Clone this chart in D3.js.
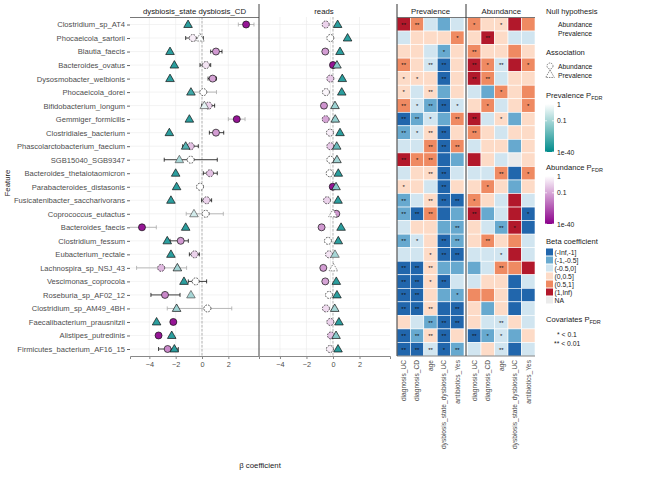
<!DOCTYPE html>
<html>
<head>
<meta charset="UTF-8"/>
<script src="https://d3js.org/d3.v7.min.js"></script>
<style>
body{margin:0;background:#fff;}
svg{font-family:"Liberation Sans",Arial,sans-serif;}
</style>
</head>
<body>
<svg id="chart" width="654" height="485"></svg>
<script>
'use strict';
// ---- data ----
var features = ['Clostridium_sp_AT4','Phocaeicola_sartorii','Blautia_faecis','Bacteroides_ovatus',
  'Dysosmobacter_welbionis','Phocaeicola_dorei','Bifidobacterium_longum','Gemmiger_formicilis',
  'Clostridiales_bacterium','Phascolarctobacterium_faecium','SGB15040_SGB9347','Bacteroides_thetaiotaomicron',
  'Parabacteroides_distasonis','Fusicatenibacter_saccharivorans','Coprococcus_eutactus','Bacteroides_faecis',
  'Clostridium_fessum','Eubacterium_rectale','Lachnospira_sp_NSJ_43','Vescimonas_coprocola',
  'Roseburia_sp_AF02_12','Clostridium_sp_AM49_4BH','Faecalibacterium_prausnitzii','Alistipes_putredinis',
  'Firmicutes_bacterium_AF16_15'];
var panels = ['dysbiosis_state dysbiosis_CD','reads'];
var covariates = ['diagnosis_UC','diagnosis_CD','age','dysbiosis_state_dysbiosis_UC','antibiotics_Yes'];
var xTicks = [-4,-2,0,2];

// forest: dysbiosis panel
var dysTri  = [-1.06,-0.15,-2.43,-2.1,-2.43,-0.84,0.18,-0.96,-2.48,-1.24,-1.72,-2.0,-1.93,-2.36,-0.61,-1.24,-2.64,-2.36,-1.87,-1.37,-0.84,-1.93,-3.45,-2.3,-2.1];
var dysCirc = [3.35,-0.7,1.06,0.3,0.81,0.1,0.5,2.64,1.06,-0.86,-0.86,0.61,-0.15,0.35,0.28,-4.56,-1.62,-0.56,-3.1,-0.48,-2.81,0.41,-2.18,-3.3,-2.61];
var dysCircLo = [2.76,-1.24,0.66,-0.15,0.46,-0.9,-0.03,2.0,0.56,-1.47,-2.87,0.1,-0.35,-0.03,-1.2,-5.65,-2.43,-0.96,-4.97,-1.04,-3.88,-2.64,-2.35,-3.45,-3.3];
var dysCircHi = [3.95,0.1,1.52,0.66,1.1,1.1,0.96,3.27,1.65,-0.28,1.16,1.16,0.05,0.73,1.62,-3.47,-1.04,-0.2,-1.17,0.35,-1.67,2.26,-2.0,-3.15,-1.8];
var dysCiFaint = [1,0,0,0,0,1,0,1,0,0,0,0,0,0,1,1,0,0,1,0,0,1,0,0,0];
var dysTriLogP  = [-30,-0.05,-30,-30,-30,-25,-0.3,-30,-30,-20,-1,-30,-30,-30,-0.5,-30,-30,-30,-2,-30,-1,-3,-30,-30,-30];
var dysCircLogP = [-35,-0.2,-4,-0.3,-2,0,-0.5,-35,-3,-0.7,0,-0.7,0,-0.5,0,-35,-4,-0.5,-0.8,0,-8,0,-35,-35,-8];
// forest: reads panel
var readsTri  = [0.35,1.1,0.53,0.3,0.7,0.66,0.15,0.17,0.53,0.28,0.3,0.4,0.23,0.38,0.0,0.61,0.4,0.15,0.03,0.25,0.3,0.13,0.45,0.23,0.38];
var readsCirc = [-0.55,-0.2,-0.58,0.0,-0.2,-0.53,-0.68,-0.55,-0.23,-0.2,-0.2,-0.25,-0.02,-0.45,0.25,-0.86,-0.38,-0.3,-0.73,-0.58,-0.3,-0.53,-0.2,-0.15,-0.23];
var readsTriLogP  = [-30,-30,-30,-8,-30,-30,-3,-5,-30,-15,-2,-30,-8,-30,0,-30,-30,-1,0,-30,-30,-1.5,-30,-8,-30];
var readsCircLogP = [-0.5,0,-3,-35,-0.6,-0.1,-5,-1,-0.2,-0.6,0,0,-35,-0.5,-4,-4,0,-0.3,-3,-1.5,0,-0.4,-0.5,-0.7,-0.2];

// heatmap: beta coefficients (rows = features, cols = covariates)
var prevBeta = [
 [1.5,0.75,-0.25,-0.75,-0.25],[-0.25,0.25,0.25,0.25,0.75],[0.25,0.25,-0.25,-0.75,0.25],[0.75,0.25,-0.25,-1.5,0.25],
 [0.25,0.25,0.25,-1.5,0.25],[0.25,-0.25,0.25,-0.75,0.25],[0.75,-0.25,-0.75,-1.5,-0.25],[-1.5,-0.75,-0.25,-0.75,0.75],
 [-0.75,-0.25,0.25,-1.5,0.25],[-0.25,-0.25,0.75,-1.5,0.75],[1.5,0.75,0.75,-1.5,-0.75],[-0.25,0.25,0.25,-1.5,-0.25],
 [0.25,0.25,-0.25,-1.5,0.25],[-0.75,-0.25,0.25,-1.5,-1.5],[-0.75,-1.5,0.75,-1.5,-0.75],[-0.25,0.25,0.25,-0.75,-0.75],
 [-0.75,-0.25,0.25,-1.5,-0.75],[-0.25,-0.25,0.25,-1.5,-1.5],[-1.5,-1.5,0.25,-0.75,-0.75],[-1.5,-1.5,0.25,-1.5,-0.25],
 [-1.5,-1.5,0.25,-0.75,-0.75],[-1.5,-1.5,0.25,-1.5,-1.5],[0.25,-0.25,-0.75,-1.5,-1.5],[-1.5,-0.75,0.25,-1.5,0.25],
 [-1.5,-1.5,-0.25,-1.5,-0.75]];
var prevStars = [
 ['**','**','','',''],['','','','','*'],['','','','*',''],['**','','**','**',''],['*','*','','**',''],
 ['*','','**','',''],['**','*','**','**','*'],['**','**','*','','**'],['**','*','**','**',''],['','','**','**','**'],
 ['**','*','**','',''],['','','**','**',''],['*','','','**',''],['**','','**','**','**'],['**','**','**','',''],
 ['','','','','**'],['**','*','','**','**'],['','','*','**','**'],['**','**','**','',''],['**','**','*','**',''],
 ['**','**','','','*'],['**','**','**','','**'],['','','**','**','**'],['**','**','**','**',''],['**','**','**','*','**']];
var abunBeta = [
 [0.75,0.25,0.25,1.5,0.75],[0.25,1.5,0.25,-0.25,-0.25],[0.75,0.25,0.25,0.75,0.25],[1.5,0.75,-0.25,1.5,0.75],
 [1.5,0.75,-0.25,0.25,0.25],[-0.25,-0.75,0.75,0.25,0.75],[0.25,0.75,-0.25,0.25,0.75],[1.5,-0.25,0.25,-0.75,0.25],
 [0.75,0.25,-0.25,0.25,0.25],[-0.25,0.25,0.25,-0.75,0.25],[1.5,0.25,-0.25,null,0.25],[-0.25,-0.25,0.75,-1.5,0.75],
 [0.25,0.75,0.25,-0.75,0.25],[0.75,0.25,-0.25,1.5,-0.25],[1.5,-0.75,-0.25,1.5,-1.5],[0.25,-0.25,-0.75,1.5,-1.5],
 [0.25,0.75,0.25,0.75,-0.25],[-0.25,-0.25,-0.25,1.5,-0.25],[-0.75,-0.25,0.75,0.75,1.5],[-0.25,0.25,0.25,-1.5,-0.25],
 [0.75,0.75,0.25,-1.5,-1.5],[0.25,-0.75,0.25,-1.5,-0.25],[0.25,-0.25,-0.25,0.25,-0.25],[-1.5,-0.75,-0.25,-0.75,0.25],
 [-0.25,0.25,-0.25,-1.5,-0.25]];
var abunStars = [
 ['*','','*','',''],['','**','','',''],['**','','','',''],['**','*','**','','*'],['**','**','','',''],
 ['','','*','',''],['','*','','','*'],['**','','*','',''],['**','','','',''],['','','','',''],
 ['','','','',''],['','','**','','*'],['','*','','',''],['*','','','',''],['**','','','','*'],
 ['','','**','*',''],['','**','','',''],['','','*','',''],['','','**','',''],['','','','',''],
 ['','','','',''],['','','','',''],['','','**','',''],['**','*','*','',''],['','','**','','']];

var betaLabels = ['(-Inf,-1]','(-1,-0.5]','(-0.5,0]','(0,0.5]','(0.5,1]','(1,Inf)','NA'];
var betaColors = ['#2166AC','#67A9CF','#D1E5F0','#FDDBC7','#EF8A62','#B2182B','#EBEBEB'];
var pBreaks = [0, -1, -40];
var pLabels = ['1','0.1','1e-40'];

// ---- drawing ----
var svg = d3.select('#chart');
var txt = '#4d4d4d';

var y = d3.scalePoint().domain(features).range([24.5, 349]);
var yb = d3.scaleBand().domain(features).range([17.5, 356]);
var xs = [d3.scaleLinear().domain([-5.47, 4.33]).range([130, 259]),
          d3.scaleLinear().domain([-5.58, 4.3]).range([259, 390])];

var tpos = d3.scaleLinear().domain(pBreaks).range([0, 0.35, 1]).clamp(true);
var teal = function(lp){ return d3.interpolateRgb('#ffffff', '#008B8B')(tpos(lp)); };
var purp = function(lp){ return d3.interpolateRgb('#ffffff', '#8B008B')(tpos(lp)); };
var betaCol = d3.scaleThreshold().domain([-1,-0.5,0,0.5,1]).range(betaColors.slice(0,6));

// grid
features.forEach(function(f){
  svg.append('line').attr('x1',130).attr('x2',390).attr('y1',y(f)).attr('y2',y(f))
    .attr('stroke','#ebebeb').attr('stroke-width',0.6);
});
xs.forEach(function(x, i){
  xTicks.forEach(function(t){
    svg.append('line').attr('x1',x(t)).attr('x2',x(t)).attr('y1',17).attr('y2',356)
      .attr('stroke','#ebebeb').attr('stroke-width',0.6);
  });
  svg.append('line').attr('x1',x(-0.2)).attr('x2',x(-0.2)).attr('y1',17).attr('y2',356)
    .attr('stroke','#e0e0e0').attr('stroke-width',0.6);
  svg.append('line').attr('x1',x(0)).attr('x2',x(0)).attr('y1',17).attr('y2',356)
    .attr('stroke','#999').attr('stroke-width',0.7).attr('stroke-dasharray','2.5,1.5');
  var ax = svg.append('g').attr('transform','translate(0,356)')
    .call(d3.axisBottom(x).tickValues(xTicks).tickSize(3).tickFormat(d3.format('d')));
  ax.select('.domain').attr('stroke','#888');
  ax.selectAll('.tick line').attr('stroke','#888');
  ax.selectAll('.tick text').attr('fill',txt).attr('font-size',7.3).attr('font-family','Liberation Sans, Arial');
});

// y axis
var yax = svg.append('g').attr('transform','translate(130,0)').call(d3.axisLeft(y).tickSize(3).tickPadding(2));
yax.select('.domain').remove();
yax.selectAll('.tick line').attr('stroke','#666');
yax.selectAll('.tick text').attr('fill',txt).attr('font-size',7.6).attr('font-family','Liberation Sans, Arial');

// strip headers
svg.append('text').attr('x',194.5).attr('y',14).attr('text-anchor','middle').attr('font-size',7.8).attr('fill','#1a1a1a').text(panels[0]);
svg.append('line').attr('x1',130).attr('x2',259).attr('y1',17.5).attr('y2',17.5).attr('stroke','#555').attr('stroke-width',0.8);
svg.append('text').attr('x',324).attr('y',14).attr('text-anchor','middle').attr('font-size',7.8).attr('fill','#1a1a1a').text(panels[1]);
svg.append('line').attr('x1',259).attr('x2',259).attr('y1',4).attr('y2',356).attr('stroke','#444').attr('stroke-width',1);

// forest points
var tri = d3.symbol().type(d3.symbolTriangle).size(32);
function drawPanel(x, triV, circV, triP, circP, lo, hi, faint){
  var g = svg.append('g');
  if (lo) {
    features.forEach(function(f, i){
      var c = faint[i] ? '#aaa' : '#111';
      var yy = y(f);
      g.append('line').attr('x1',x(Math.max(lo[i], x.domain()[0]))).attr('x2',x(hi[i])).attr('y1',yy).attr('y2',yy).attr('stroke',c).attr('stroke-width',0.8);
      [lo[i], hi[i]].forEach(function(v){
        if (v >= x.domain()[0]) g.append('line').attr('x1',x(v)).attr('x2',x(v)).attr('y1',yy-2).attr('y2',yy+2).attr('stroke',c).attr('stroke-width',0.8);
      });
    });
  }
  g.selectAll('circle').data(features).enter().append('circle')
    .attr('cx', function(d,i){ return x(circV[i]); })
    .attr('cy', function(d){ return y(d); })
    .attr('r', 3.5)
    .attr('fill', function(d,i){ return purp(circP[i]); })
    .attr('stroke', '#111').attr('stroke-width', 0.7)
    .attr('stroke-dasharray', function(d,i){ return circP[i] > -1.3 ? '1.6,1.2' : null; });
  g.selectAll('path.tri').data(features).enter().append('path').attr('class','tri')
    .attr('d', tri)
    .attr('transform', function(d,i){ return 'translate(' + x(triV[i]) + ',' + (y(d)+0.5) + ')'; })
    .attr('fill', function(d,i){ return teal(triP[i]); })
    .attr('stroke', function(d,i){ return triP[i] > -1.3 ? '#555' : '#111'; })
    .attr('stroke-width', 0.7)
    .attr('stroke-dasharray', function(d,i){ return triP[i] > -0.2 ? '1.6,1.2' : null; });
}
drawPanel(xs[0], dysTri, dysCirc, dysTriLogP, dysCircLogP, dysCircLo, dysCircHi, dysCiFaint);
drawPanel(xs[1], readsTri, readsCirc, readsTriLogP, readsCircLogP, null, null, null);

// heatmap
var hx = [d3.scaleBand().domain(covariates).range([397, 464]),
          d3.scaleBand().domain(covariates).range([467.5, 535])];
var hData = [[prevBeta, prevStars, 'Prevalence'], [abunBeta, abunStars, 'Abundance']];
hData.forEach(function(h, k){
  var x = hx[k];
  var g = svg.append('g');
  features.forEach(function(f, i){
    covariates.forEach(function(c, j){
      var b = h[0][i][j];
      g.append('rect').attr('x', x(c)).attr('y', yb(f)).attr('width', x.bandwidth()).attr('height', yb.bandwidth())
        .attr('fill', b === null ? betaColors[6] : betaCol(b)).attr('stroke','#fff').attr('stroke-width',0.6);
      if (h[1][i][j]) {
        g.append('text').attr('x', x(c) + x.bandwidth()/2).attr('y', yb(f) + yb.bandwidth()/2 + 2.4)
          .attr('text-anchor','middle').attr('font-size',6).attr('fill','#111')
          .text(h[1][i][j]);
      }
    });
  });
  var mid = (x.range()[0] + x.range()[1]) / 2;
  svg.append('text').attr('x', mid).attr('y', 14).attr('text-anchor','middle').attr('font-size',7.8).attr('fill','#1a1a1a').text(h[2]);
  covariates.forEach(function(c){
    svg.append('text').attr('transform','translate(' + (x(c) + x.bandwidth()/2 + 2.3) + ',360) rotate(-90)')
      .attr('text-anchor','end').attr('font-size',6.6).attr('fill',txt).text(c);
  });
});
svg.append('line').attr('x1',397).attr('x2',535).attr('y1',17.5).attr('y2',17.5).attr('stroke','#555').attr('stroke-width',0.8);
svg.append('line').attr('x1',397).attr('x2',535).attr('y1',356).attr('y2',356).attr('stroke','#666').attr('stroke-width',0.8);
[397, 466].forEach(function(v){
  svg.append('line').attr('x1',v).attr('x2',v).attr('y1',4).attr('y2',356).attr('stroke','#333').attr('stroke-width',1);
});

// axis titles
svg.append('text').attr('transform','translate(10,183) rotate(-90)').attr('text-anchor','middle').attr('font-size',7.8).attr('fill','#1a1a1a').text('Feature');
svg.append('text').attr('x',260).attr('y',468).attr('text-anchor','middle').attr('font-size',7.8).attr('fill','#1a1a1a').text('β coefficient');

// legends
var L = svg.append('g').attr('font-size',6.8).attr('fill','#1a1a1a');
L.append('text').attr('x',546).attr('y',14).attr('font-size',7.6).text('Null hypothesis');
L.append('text').attr('x',558).attr('y',26.5).text('Abundance');
L.append('text').attr('x',558).attr('y',35.5).text('Prevalence');
L.append('text').attr('x',546).attr('y',55).attr('font-size',7.6).text('Association');
L.append('circle').attr('cx',550).attr('cy',66).attr('r',3).attr('fill','none').attr('stroke','#333').attr('stroke-width',0.6).attr('stroke-dasharray','1.5,1');
L.append('text').attr('x',558).attr('y',68.5).text('Abundance');
L.append('path').attr('d',tri).attr('transform','translate(550,75)').attr('fill','none').attr('stroke','#333').attr('stroke-width',0.6).attr('stroke-dasharray','1.5,1');
L.append('text').attr('x',558).attr('y',77.5).text('Prevalence');

var defs = svg.append('defs');
function colorbar(id, col, top, title){
  var gr = defs.append('linearGradient').attr('id', id).attr('x1',0).attr('x2',0).attr('y1',0).attr('y2',1);
  gr.append('stop').attr('offset',0).attr('stop-color', col(0));
  gr.append('stop').attr('offset',1).attr('stop-color', col(-40));
  var t = L.append('text').attr('x',546).attr('y',top - 6).attr('font-size',7.6).text(title);
  t.append('tspan').attr('font-size',5.5).attr('dy',2).text('FDR');
  L.append('rect').attr('x',545).attr('y',top).attr('width',9).attr('height',48).attr('fill','url(#' + id + ')');
  pBreaks.forEach(function(b, i){
    var yy = top + 48 * tpos(b);
    L.append('line').attr('x1',545).attr('x2',547).attr('y1',yy).attr('y2',yy).attr('stroke','#fff').attr('stroke-width',0.7);
    L.append('line').attr('x1',552).attr('x2',554).attr('y1',yy).attr('y2',yy).attr('stroke','#fff').attr('stroke-width',0.7);
    L.append('text').attr('x',557).attr('y',yy + 2.5).attr('font-size',6.8).text(pLabels[i]);
  });
}
colorbar('gTeal', teal, 104, 'Prevalence P');
colorbar('gPurp', purp, 176, 'Abundance P');

L.append('text').attr('x',546).attr('y',244).attr('font-size',7.6).text('Beta coefficient');
betaLabels.forEach(function(b, i){
  L.append('rect').attr('x',546).attr('y',248.5 + i*8).attr('width',7).attr('height',7).attr('fill',betaColors[i]);
  L.append('text').attr('x',554.5).attr('y',254.5 + i*8).text(b);
});
var ct = L.append('text').attr('x',546).attr('y',322).attr('font-size',7.6).text('Covariates P');
ct.append('tspan').attr('font-size',5.5).attr('dy',2).text('FDR');
L.append('text').attr('x',557).attr('y',337).text('* < 0.1');
L.append('text').attr('x',554).attr('y',345.5).text('** < 0.01');
</script>
</body>
</html>
